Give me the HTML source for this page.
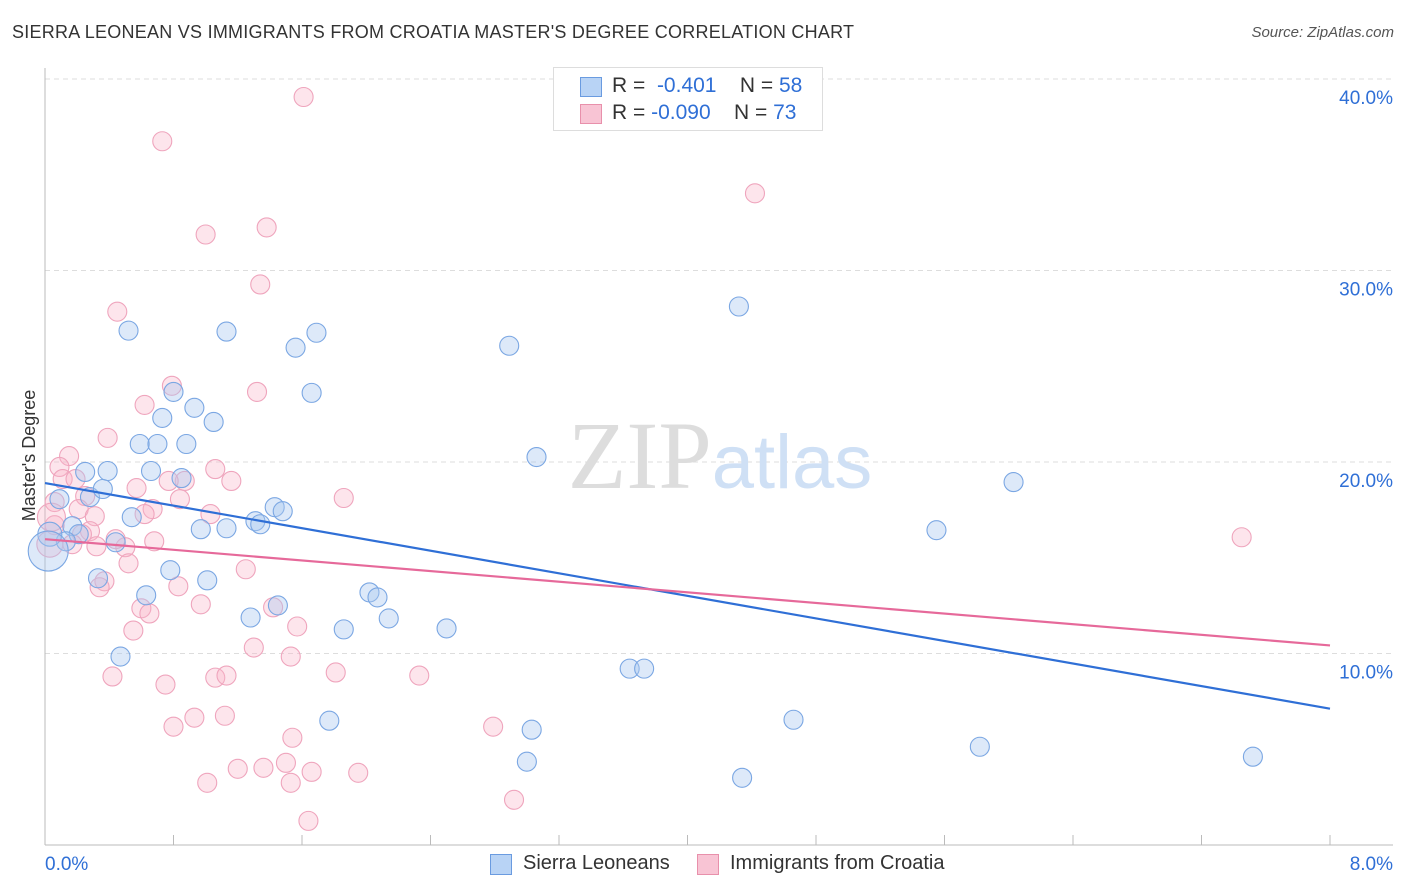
<!DOCTYPE html>
<html><head><meta charset="utf-8"><style>
body{margin:0;background:#fff;font-family:"Liberation Sans",sans-serif;}
#wrap{position:relative;width:1406px;height:892px;overflow:hidden;}
.t{position:absolute;white-space:nowrap;}
</style></head><body>
<div id="wrap">
<div class="t" style="left:12px;top:22px;font-size:18px;color:#333;letter-spacing:0.25px;">SIERRA LEONEAN VS IMMIGRANTS FROM CROATIA MASTER'S DEGREE CORRELATION CHART</div>
<div class="t" style="right:12px;top:24px;font-size:15px;color:#555;font-style:italic;">Source: ZipAtlas.com</div>
<div class="t" style="left:-36px;top:445px;font-size:18px;color:#333;transform:rotate(-90deg);">Master's Degree</div>
<svg id="plot" width="1406" height="892" style="position:absolute;left:0;top:0"></svg>
<div style="position:absolute;left:553px;top:67px;width:268px;height:62px;border:1px solid #ddd;background:#fff;font-size:21px;">
 <div style="position:absolute;left:26px;top:9px;width:20px;height:18px;background:#b8d3f5;border:1px solid #6a9be0;"></div>
 <div class="t" style="left:58px;top:6px;color:#333">R = <span style="color:#2f6fd6">&nbsp;-0.401</span>&nbsp;&nbsp;&nbsp; N = <span style="color:#2f6fd6">58</span></div>
 <div style="position:absolute;left:26px;top:36px;width:20px;height:18px;background:#f8c4d4;border:1px solid #e890ab;"></div>
 <div class="t" style="left:58px;top:33px;color:#333">R = <span style="color:#2f6fd6">-0.090</span>&nbsp;&nbsp;&nbsp; N = <span style="color:#2f6fd6">73</span></div>
</div>
<div style="position:absolute;left:490px;top:852px;font-size:20px;color:#333;">
 <div style="position:absolute;left:0;top:2px;width:20px;height:19px;background:#b8d3f5;border:1px solid #6a9be0;"></div>
 <div class="t" style="left:33px;top:0">Sierra Leoneans</div>
 <div style="position:absolute;left:207px;top:2px;width:20px;height:19px;background:#f8c4d4;border:1px solid #e890ab;"></div>
 <div class="t" style="left:240px;top:0">Immigrants from Croatia</div>
</div>
</div>
<script>
const yTicks=[10,20,30,40];
const yTickLabels=["10.0%","20.0%","30.0%","40.0%"];
const xTickLabels=["0.0%","8.0%"];
const blueX=[0.52,1.13,1.56,1.69,1.66,0.80,0.93,0.73,1.05,0.59,0.70,0.88,0.66,0.85,0.39,0.25,0.09,0.28,0.36,0.54,0.97,1.13,1.31,1.34,1.43,1.48,0.17,0.21,0.13,0.44,0.03,0.02,0.78,0.33,1.01,0.63,2.02,2.07,1.28,1.45,2.14,1.86,2.50,0.47,3.64,3.73,1.77,3.03,3.00,4.34,4.66,5.82,7.52,4.32,2.89,3.06,6.03,5.55];
const blueY=[26.86,26.81,25.97,26.75,23.61,23.66,22.83,22.30,22.09,20.94,20.94,20.94,19.53,19.16,19.53,19.48,18.06,18.17,18.59,17.12,16.49,16.54,16.91,16.75,17.64,17.43,16.65,16.23,15.86,15.81,16.23,15.35,14.35,13.93,13.82,13.04,13.19,12.93,11.88,12.51,11.83,11.26,11.31,9.84,9.21,9.21,6.49,6.02,4.35,3.51,6.54,5.13,4.61,28.12,26.07,20.26,18.95,16.44];
const pinkX=[1.61,0.73,1.00,1.38,4.42,1.34,0.45,0.79,1.32,0.62,0.39,0.15,0.09,1.06,0.11,0.19,0.87,0.57,1.16,0.77,1.86,0.25,0.06,0.21,0.31,1.03,0.67,0.62,0.28,0.23,0.06,0.03,0.17,0.32,0.50,0.68,0.44,0.52,1.25,0.37,0.34,0.83,0.60,0.65,0.97,1.42,1.57,0.55,1.30,1.53,1.81,2.33,0.42,0.75,1.06,1.13,0.93,1.12,0.80,1.54,2.79,1.50,1.20,1.36,1.66,1.95,1.01,1.53,2.92,1.64,7.45,0.04,0.84];
const pinkY=[39.06,36.75,31.88,32.25,34.03,29.27,27.85,23.98,23.66,22.98,21.26,20.31,19.74,19.63,19.11,19.11,19.01,18.64,19.01,19.01,18.12,18.22,17.91,17.54,17.17,17.28,17.54,17.28,16.39,16.23,16.70,15.71,15.71,15.60,15.55,15.86,15.97,14.71,14.40,13.77,13.46,13.51,12.36,12.09,12.57,12.41,11.41,11.20,10.31,9.84,9.01,8.85,8.80,8.38,8.74,8.85,6.65,6.75,6.18,5.60,6.18,4.29,3.98,4.03,3.82,3.77,3.25,3.25,2.36,1.26,16.07,17.12,18.06];
const blueTrend=[18.9,7.12];
const pinkTrend=[15.97,10.42];
const X0=45,X1=1330,Y0=845,Y40=79;
const sx=v=>X0+(X1-X0)*v/8;
const sy=v=>Y0-(Y0-Y40)*v/40;
const svg=document.getElementById('plot');
const NS='http://www.w3.org/2000/svg';
function mk(tag,attrs,parent){const e=document.createElementNS(NS,tag);for(const k in attrs)e.setAttribute(k,attrs[k]);(parent||svg).appendChild(e);return e;}
yTicks.forEach((t,i)=>{
 const g=mk('line',{x1:X0,x2:1393,y1:sy(t),y2:sy(t),stroke:'#ddd','stroke-dasharray':'5,4'});
 
 
 const tx=mk('text',{x:1393,y:sy(t)+25,'text-anchor':'end','font-size':19,fill:'#2f6fd6','font-family':'Liberation Sans, sans-serif'});
 tx.textContent=yTickLabels[i];
 
 
});
const ax=mk('line',{x1:X0,x2:X0,y1:68,y2:Y0,stroke:'#bbb'});


const bx=mk('line',{x1:X0,x2:1393,y1:Y0,y2:Y0,stroke:'#bbb'});


for(let i=0;i<=10;i++){
 const tk=mk('line',{x1:sx(i*0.8),x2:sx(i*0.8),y1:Y0-10,y2:Y0,stroke:'#bbb'});
 
 
}
[[0,'start',X0],[8,'end',1393]].forEach((d,i)=>{
 const tx=mk('text',{x:d[2],y:870,'text-anchor':d[1],'font-size':19,fill:'#2f6fd6','font-family':'Liberation Sans, sans-serif'});
 tx.textContent=xTickLabels[i];
 
 
});
const wm=mk('text',{x:720,y:488,'text-anchor':'middle','font-size':96,fill:'#ddd','font-family':'Liberation Serif, serif'});
wm.innerHTML='ZIP<tspan font-family="Liberation Sans, sans-serif" font-size="76" fill="#cfe0f5">atlas</tspan>';


pinkX.forEach((v,i)=>{
 const c=mk('circle',{cx:sx(v),cy:sy(pinkY[i]),r:(i==71?14:(i==31?13:9.5)),fill:'rgba(248,180,200,0.35)',stroke:'#efa5bd','stroke-width':1.1});
 
 
});
blueX.forEach((v,i)=>{
 const c=mk('circle',{cx:sx(v),cy:sy(blueY[i]),r:(i==31?20:(i==30?12:9.5)),fill:'rgba(170,200,240,0.4)',stroke:'#7ba7e3','stroke-width':1.1});
 
 
});
const bl=mk('line',{x1:sx(0),y1:sy(blueTrend[0]),x2:sx(8),y2:sy(blueTrend[1]),stroke:'#2f6fd6','stroke-width':2.2});


const pl=mk('line',{x1:sx(0),y1:sy(pinkTrend[0]),x2:sx(8),y2:sy(pinkTrend[1]),stroke:'#e6699a','stroke-width':2.2});


</script>
</body></html>
